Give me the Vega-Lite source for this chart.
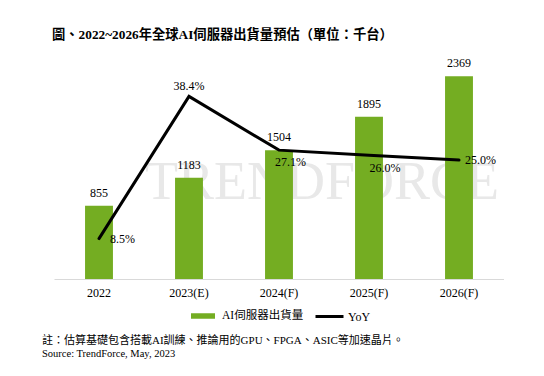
{
  "$schema": "https://vega.github.io/schema/vega-lite/v6.json",
  "padding": {"left": 42, "top": 27, "right": 0, "bottom": 0},
  "background": "white",
  "config": {
    "view": {"stroke": null},
    "font": "Liberation Serif, Noto Sans CJK TC",
    "text": {"font": "Liberation Serif, Noto Sans CJK TC", "fontSize": 12, "color": "#000000"}
  },
  "title": {
    "text": "註：估算基礎包含搭載AI訓練、推論用的GPU、FPGA、ASIC等加速晶片。",
    "subtitle": "Source: TrendForce, May, 2023",
    "orient": "bottom",
    "anchor": "start",
    "frame": "group",
    "dx": -12,
    "fontSize": 11,
    "fontWeight": "normal",
    "font": "Liberation Serif, Noto Sans CJK TC",
    "color": "#000000",
    "subtitleFontSize": 10.5,
    "subtitleFont": "Liberation Serif",
    "subtitleColor": "#000000",
    "subtitlePadding": 3,
    "offset": 8
  },
  "vconcat": [
    {
      "width": 450,
      "height": 214,
      "title": {
        "text": "圖、2022~2026年全球AI伺服器出貨量預估（單位：千台）",
        "anchor": "start",
        "frame": "group",
        "dx": -2,
        "fontSize": 13.3,
        "fontWeight": "bold",
        "font": "Liberation Serif, Noto Sans CJK TC",
        "color": "#000000",
        "offset": 16
      },
      "data": {
        "values": [
          {"year": "2022", "shipments": 855, "yoy": 0.085},
          {"year": "2023(E)", "shipments": 1183, "yoy": 0.384},
          {"year": "2024(F)", "shipments": 1504, "yoy": 0.271},
          {"year": "2025(F)", "shipments": 1895, "yoy": 0.26},
          {"year": "2026(F)", "shipments": 2369, "yoy": 0.25}
        ]
      },
      "encoding": {
        "x": {
          "field": "year",
          "type": "ordinal",
          "sort": null,
          "scale": {"domain": ["2022", "2023(E)", "2024(F)", "2025(F)", "2026(F)"], "paddingInner": 0, "paddingOuter": 0},
          "axis": {
            "title": null,
            "labelAngle": 0,
            "labelFont": "Liberation Serif",
            "labelFontSize": 12,
            "labelColor": "#000000",
            "ticks": false,
            "labelPadding": 8,
            "domainColor": "#d9d9d9",
            "domainWidth": 1
          }
        }
      },
      "layer": [
        {
          "data": {"values": [{"wm": "TRENDFORCE"}]},
          "mark": {"type": "text", "fontSize": 54, "font": "Liberation Serif", "color": "#e8e8e8", "align": "center", "baseline": "alphabetic", "dx": 43},
          "encoding": {
            "x": {"datum": "2024(F)", "type": "ordinal"},
            "y": {"datum": 930, "type": "quantitative", "scale": {"domain": [0, 2500]}, "axis": null},
            "text": {"field": "wm"}
          }
        },
        {
          "mark": {"type": "bar", "width": {"band": 0.31}},
          "encoding": {
            "y": {"field": "shipments", "type": "quantitative", "scale": {"domain": [0, 2500]}, "axis": null},
            "color": {
              "datum": "AI伺服器出貨量",
              "scale": {"range": ["#74ad22"]},
              "legend": {
                "title": null,
                "orient": "none",
                "legendX": 134,
                "legendY": 236,
                "symbolType": "stroke",
                "symbolSize": 576,
                "symbolStrokeWidth": 5.5,
                "symbolStrokeColor": "#74ad22",
                "labelFont": "Liberation Serif, Noto Sans CJK TC",
                "labelFontSize": 11.5,
                "labelColor": "#000000",
                "labelOffset": 4
              }
            }
          }
        },
        {
          "mark": {"type": "text", "align": "center", "baseline": "alphabetic", "dy": -9},
          "encoding": {
            "y": {"field": "shipments", "type": "quantitative", "scale": {"domain": [0, 2500]}, "axis": null},
            "text": {"field": "shipments", "type": "quantitative", "format": "d"}
          }
        },
        {
          "mark": {"type": "line", "strokeWidth": 3, "strokeCap": "round", "strokeJoin": "miter"},
          "encoding": {
            "y": {"field": "yoy", "type": "quantitative", "scale": {"domain": [0, 0.45]}, "axis": null},
            "stroke": {
              "datum": "YoY",
              "scale": {"range": ["#000000"]},
              "legend": {
                "title": null,
                "orient": "none",
                "legendX": 260,
                "legendY": 236,
                "symbolType": "stroke",
                "symbolSize": 784,
                "symbolStrokeWidth": 3,
                "symbolStrokeColor": "#000000",
                "labelFont": "Liberation Serif",
                "labelFontSize": 12,
                "labelColor": "#000000",
                "labelOffset": 3
              }
            }
          }
        },
        {
          "transform": [{"filter": "datum.year === '2022'"}],
          "mark": {"type": "text", "align": "left", "baseline": "middle", "dx": 11},
          "encoding": {
            "y": {"field": "yoy", "type": "quantitative", "scale": {"domain": [0, 0.45]}, "axis": null},
            "text": {"field": "yoy", "type": "quantitative", "format": ".1%"}
          }
        },
        {
          "transform": [{"filter": "datum.year === '2023(E)'"}],
          "mark": {"type": "text", "align": "center", "baseline": "middle", "dy": -10},
          "encoding": {
            "y": {"field": "yoy", "type": "quantitative", "scale": {"domain": [0, 0.45]}, "axis": null},
            "text": {"field": "yoy", "type": "quantitative", "format": ".1%"}
          }
        },
        {
          "transform": [{"filter": "datum.year === '2024(F)'"}],
          "mark": {"type": "text", "align": "left", "baseline": "middle", "dx": -4, "dy": 12},
          "encoding": {
            "y": {"field": "yoy", "type": "quantitative", "scale": {"domain": [0, 0.45]}, "axis": null},
            "text": {"field": "yoy", "type": "quantitative", "format": ".1%"}
          }
        },
        {
          "transform": [{"filter": "datum.year === '2025(F)'"}],
          "mark": {"type": "text", "align": "center", "baseline": "middle", "dx": 16, "dy": 13},
          "encoding": {
            "y": {"field": "yoy", "type": "quantitative", "scale": {"domain": [0, 0.45]}, "axis": null},
            "text": {"field": "yoy", "type": "quantitative", "format": ".1%"}
          }
        },
        {
          "transform": [{"filter": "datum.year === '2026(F)'"}],
          "mark": {"type": "text", "align": "left", "baseline": "middle", "dx": 6},
          "encoding": {
            "y": {"field": "yoy", "type": "quantitative", "scale": {"domain": [0, 0.45]}, "axis": null},
            "text": {"field": "yoy", "type": "quantitative", "format": ".1%"}
          }
        }
      ],
      "resolve": {"scale": {"y": "independent"}}
    }
  ]
}
